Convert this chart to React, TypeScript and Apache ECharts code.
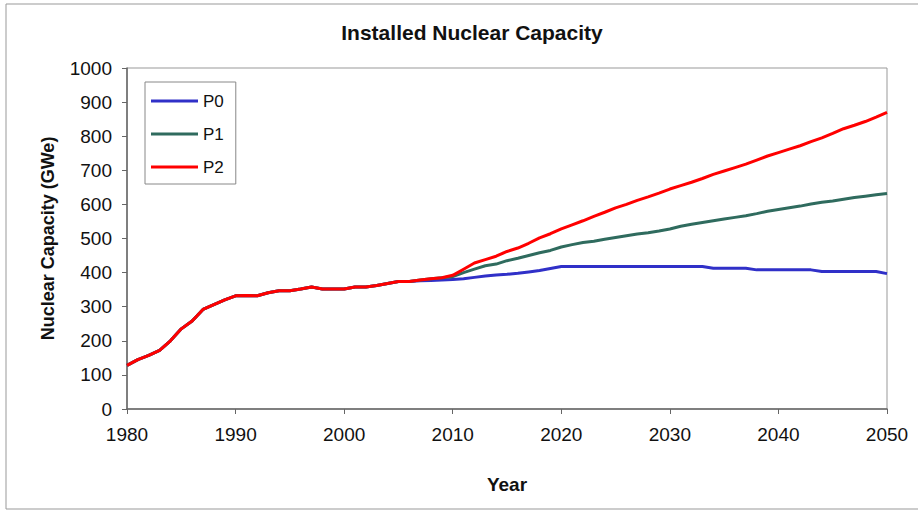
import React, { useEffect, useRef } from "react";
import * as echarts from "echarts";

const years: number[] = [];
for (let y = 1980; y <= 2050; y++) years.push(y);

const historical = [
  128, 145, 157, 172, 200, 235, 258, 292, 306, 320,
  332, 333, 332, 341, 347, 347, 352, 358, 352, 352,
  352, 358, 358, 362, 368, 374, 374,
];

const p0Future = [
  376, 377, 378, 380, 382, 386, 390, 393, 395, 398, 402, 406, 412,
  418, 418, 418, 418, 418, 418, 418, 418, 418, 418, 418, 418, 418, 418,
  413, 413, 413, 413, 408, 408, 408, 408, 408, 408,
  403, 403, 403, 403, 403, 403, 397,
];

const p1Future = [
  378, 382, 385, 388, 400, 410, 420, 425, 435, 442, 450, 458, 465,
  475, 482, 488, 492, 498, 503, 508, 513, 517, 522, 528,
  536, 542, 547, 552, 557, 562, 567, 573, 580, 585,
  590, 595, 601, 606, 610, 615, 620, 624, 628, 632,
];

const p2Future = [
  378, 382, 385, 392, 410, 428, 438, 448, 462, 472, 486, 502, 514,
  528, 540, 552, 565, 577, 590, 600, 612, 622, 633, 645,
  655, 665, 676, 688, 698, 708, 718, 730, 742, 752,
  762, 772, 784, 795, 808, 822, 832, 843, 856, 870,
];

const p0 = [...historical, ...p0Future];
const p1 = [...historical, ...p1Future];
const p2 = [...historical, ...p2Future];

const seriesNames = ["P0", "P1", "P2"];
const seriesColors = ["#3030C8", "#2F6B5E", "#FF0000"];
const seriesValues = [p0, p1, p2];

const FONT = "Liberation Sans, Arial, sans-serif";

export default function App() {
  const ref = useRef<HTMLDivElement>(null);
  useEffect(() => {
    if (!ref.current) return;
    const chart = echarts.init(ref.current, undefined, { renderer: "svg" });
    chart.setOption({
      animation: false,
      backgroundColor: "#ffffff",
      title: {
        text: "Installed Nuclear Capacity",
        left: 467,
        textAlign: "center",
        top: 17,
        textStyle: { fontFamily: FONT, fontSize: 21, fontWeight: "bold", color: "#111" },
      },
      graphic: [
        {
          type: "rect",
          shape: { x: 6, y: 4, width: 930, height: 505 },
          style: { fill: "none", stroke: "#999", lineWidth: 1 },
          silent: true,
          z: -1,
        },
      ],
      legend: {
        orient: "vertical",
        left: 145,
        top: 82,
        padding: [9, 12, 7, 6],
        itemGap: 13,
        itemWidth: 47,
        itemHeight: 3,
        icon: "rect",
        borderColor: "#888",
        borderWidth: 1,
        backgroundColor: "#fff",
        textStyle: { fontFamily: FONT, fontSize: 17, color: "#111", lineHeight: 20 },
        data: seriesNames,
      },
      grid: {
        left: 127,
        right: 31,
        top: 68,
        bottom: 103,
        show: true,
        borderColor: "#999",
        borderWidth: 1,
        backgroundColor: "#fff",
      },
      xAxis: {
        type: "value",
        min: 1980,
        max: 2050,
        interval: 10,
        name: "Year",
        nameLocation: "middle",
        nameGap: 66,
        nameTextStyle: { fontFamily: FONT, fontSize: 19, fontWeight: "bold", color: "#111" },
        axisLine: { lineStyle: { color: "#666", width: 1.5 } },
        axisTick: { show: true, length: 5, lineStyle: { color: "#666" } },
        axisLabel: {
          fontFamily: FONT,
          fontSize: 19,
          color: "#111",
          margin: 16,
          formatter: (v: number) => String(v),
        },
        splitLine: { show: false },
      },
      yAxis: {
        type: "value",
        min: 0,
        max: 1000,
        interval: 100,
        name: "Nuclear Capacity (GWe)",
        nameLocation: "middle",
        nameGap: 70,
        nameTextStyle: { fontFamily: FONT, fontSize: 18, fontWeight: "bold", color: "#111" },
        axisLine: { show: true, lineStyle: { color: "#666", width: 1.5 } },
        axisTick: { show: true, length: 5, lineStyle: { color: "#666" } },
        axisLabel: {
          fontFamily: FONT,
          fontSize: 19,
          color: "#111",
          margin: 15,
          formatter: (v: number) => String(v),
        },
        splitLine: { show: false },
      },
      series: seriesNames.map((name, i) => ({
        name,
        type: "line",
        data: years.map((y, j) => [y, seriesValues[i][j]]),
        showSymbol: false,
        symbol: "none",
        lineStyle: { color: seriesColors[i], width: 3 },
        itemStyle: { color: seriesColors[i] },
        z: 2 + i,
      })),
    });
    return () => chart.dispose();
  }, []);
  return (
    <div
      ref={ref}
      style={{ position: "fixed", left: 0, top: 0, width: 918, height: 512 }}
    />
  );
}
